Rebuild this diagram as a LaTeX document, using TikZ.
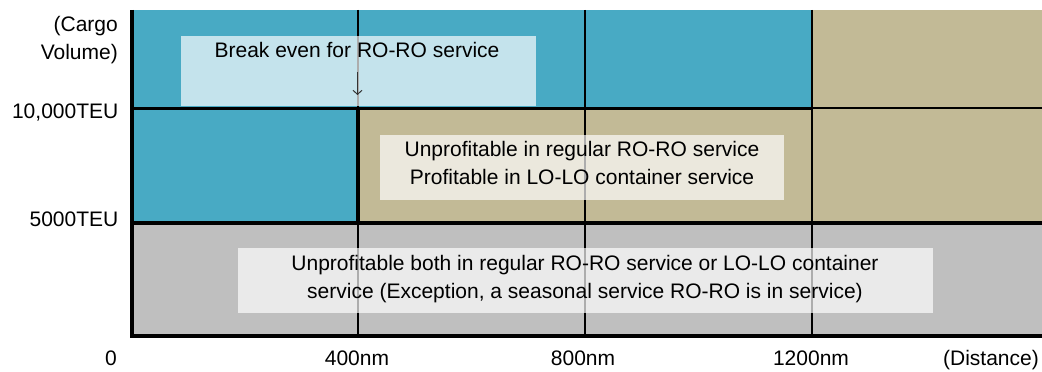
\documentclass[tikz,border=0pt]{standalone}
\usepackage{fontspec}
\setmainfont{Liberation Sans}
\usetikzlibrary{arrows.meta}
\definecolor{seablue}{RGB}{72,170,196}
\definecolor{sand}{RGB}{194,186,150}
\definecolor{lowgray}{RGB}{191,191,191}
\definecolor{inkgray}{RGB}{51,51,51}

\begin{document}
\begin{tikzpicture}[x=1pt,y=1pt,
  lbl/.style={inner sep=0pt, font=\fontsize{21}{28}\selectfont, text=black},
  note/.style={lbl, align=center},
  veil/.style={fill=white, fill opacity=0.68},
  gridline/.style={line width=2pt},
  boldline/.style={line width=4pt},
  ]
\useasboundingbox (0,0) rectangle (1042,372);

% coloured zones
\fill[seablue] (131,362) rectangle (812,264);
\fill[seablue] (131,264) rectangle (358,149);
\fill[sand] (812,362) rectangle (1042,264);
\fill[sand] (358,264) rectangle (1042,149);
\fill[lowgray] (131,149) rectangle (1042,36);

% distance grid
\draw[gridline] (358,362) -- (358,36);
\draw[gridline] (585,362) -- (585,36);
\draw[gridline] (812,362) -- (812,36);
\draw[line width=1.7pt] (812,264) -- (1042,264);

% zone boundaries
\draw[line width=3pt] (131,263.5) -- (812,263.5);
\draw[boldline] (131,149) -- (1042,149);
\draw[boldline] (358,264) -- (358,149);

% axes
\draw[boldline] (132,362) -- (132,35.7) -- (1042,35.7);

% translucent label panels
\fill[veil] (181,336) rectangle (536,266);
\fill[veil] (380,237) rectangle (784,172);
\fill[veil] (238,124) rectangle (933,59);

% panel texts
\node[lbl, anchor=base] (breakeven) at (357,314.5) {Break even for RO-RO service};
\coordinate (arrowfrom) at (357.5,300);
\coordinate (arrowto) at (357.5,277);
\draw[inkgray, line width=1pt, -{Straight Barb[length=4pt,width=9pt]}] (arrowfrom) -- (arrowto);

\node[note] (middle) at (582,208.6) {Unprofitable in regular RO-RO service\\Profitable in LO-LO container service};
\node[note] (lower) at (585,92.5) {Unprofitable both in regular RO-RO service or LO-LO container\\service (Exception, a seasonal service RO-RO is in service)};

% axis labels
\node[lbl, align=right, anchor=east] (yname) at (118,332.4) {(Cargo\\Volume)};
\node[lbl, anchor=base east] (y10k) at (118.5,253) {10,000TEU};
\node[lbl, anchor=base east] (y5k) at (118.5,145) {5000TEU};
\node[lbl, anchor=base] (x0) at (111,6) {0};
\node[lbl, anchor=base] (x400) at (357,6) {400nm};
\node[lbl, anchor=base] (x800) at (583,6) {800nm};
\node[lbl, anchor=base] (x1200) at (811,6) {1200nm};
\node[lbl, anchor=base east] (xname) at (1039,6) {(Distance)};
\end{tikzpicture}
\end{document}
